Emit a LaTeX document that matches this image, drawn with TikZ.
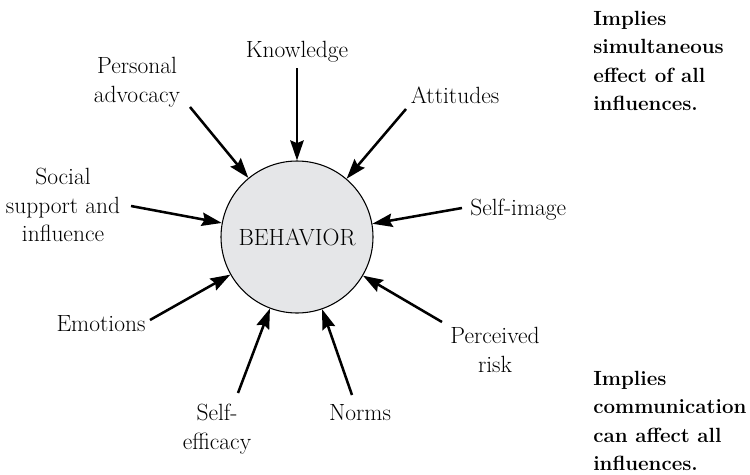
\documentclass[tikz,border=0pt]{standalone}
\usepackage{amssymb}
\usepackage{amsmath}
\usepackage{tikz}
\usetikzlibrary{arrows.meta}

\begin{document}
\begin{tikzpicture}[x=0.75pt,y=0.75pt,yscale=-1,xscale=1,
  lbl/.style={align=center,inner sep=0.75pt,font=\fontsize{17.6}{21.6}\selectfont},
  note/.style={align=left,anchor=west,inner sep=0pt,font=\fontsize{15.4}{21.4}\selectfont\bfseries},
  infl/.style={draw={rgb, 255:red, 0; green, 0; blue, 0 },line width=1.9pt,-{Stealth[length=15pt,width=10pt,inset=2pt]}}]
%set diagram left start at 0, and has height of 475
\path [use as bounding box] (0,0) rectangle (750,475);

%Shape: Circle [id:beh]
\node [circle,draw={rgb, 255:red, 0; green, 0; blue, 0 },line width=0.8pt,fill={rgb, 255:red, 229; green, 230; blue, 232 },fill opacity=1,text opacity=1,minimum size=114pt,inner sep=0pt,font=\fontsize{17.6}{21.6}\selectfont] (beh) at (297,237) {BEHAVIOR};

% Text Node
\node [lbl] (knw) at (297,52) {Knowledge};
% Text Node
\node [lbl] (pers) at (137,82) {Personal\\advocacy};
% Text Node
\node [lbl] (att) at (455,95) {Attitudes};
% Text Node
\node [lbl] (soc) at (63,205) {Social\\support and\\influence};
% Text Node
\node [lbl,anchor=west] (self) at (469,210) {Self-image};
% Text Node
\node [lbl] (emo) at (101,324) {Emotions};
% Text Node
\node [lbl] (risk) at (495,350) {Perceived\\risk};
% Text Node
\node [lbl] (eff) at (217,429) {Self-\\efficacy};
% Text Node
\node [lbl] (norm) at (360,413) {Norms};

% Text Node
\node [note] (simul) at (593,61) {Implies\\simultaneous\\effect of all\\influences.};
% Text Node
\node [note] (comm) at (593,421) {Implies\\communication\\can affect all\\influences.};

%Straight Lines [id:tails]
\coordinate (knwT) at (297,68);
\coordinate (persT) at (190,107);
\coordinate (attT) at (406,109);
\coordinate (socT) at (131,206);
\coordinate (selfT) at (462,208);
\coordinate (emoT) at (150,320);
\coordinate (riskT) at (442,322);
\coordinate (effT) at (238,393);
\coordinate (normT) at (352,395);

%Straight Lines [id:arrows]
\draw [infl] (knwT) -- (beh);
\draw [infl] (persT) -- (beh);
\draw [infl] (attT) -- (beh);
\draw [infl] (socT) -- (beh);
\draw [infl] (selfT) -- (beh);
\draw [infl] (emoT) -- (beh);
\draw [infl] (riskT) -- (beh);
\draw [infl] (effT) -- (beh);
\draw [infl] (normT) -- (beh);

\end{tikzpicture}
\end{document}
